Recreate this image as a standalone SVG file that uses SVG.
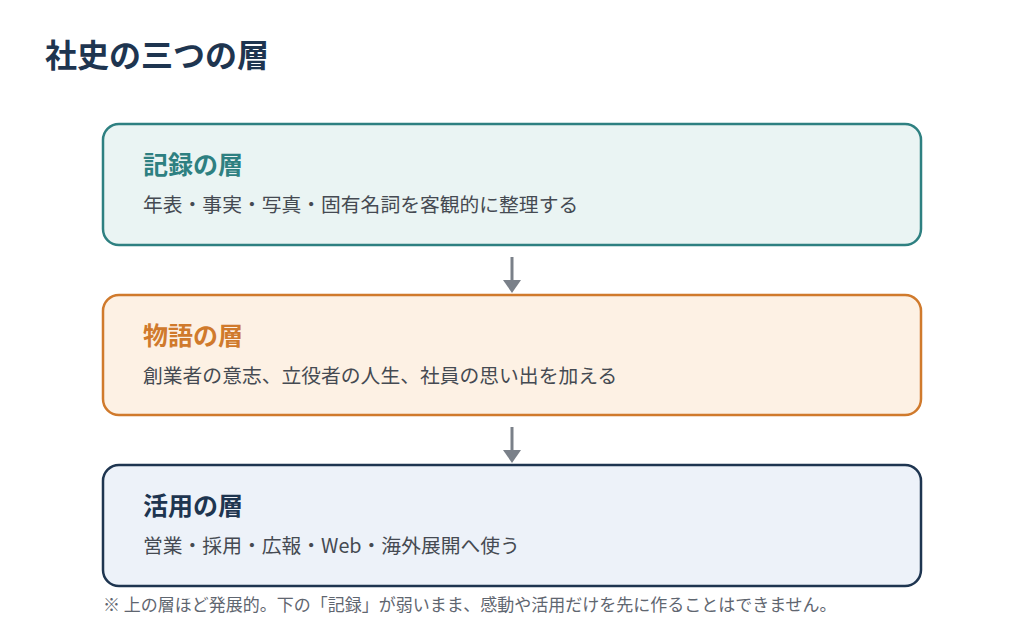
<svg xmlns="http://www.w3.org/2000/svg" width="1024" height="635" viewBox="0 0 1024 635">
<style>
text{font-family:"Noto Sans CJK JP","Noto Sans",sans-serif}
.box{stroke-width:2.5}
.h{font-size:25px;font-weight:bold}
.s{font-size:19.8px;fill:#454a52}
.c{stroke:#7a8089;stroke-width:3;fill:none}
</style>
<rect width="1024" height="635" fill="#fff"/>
<text x="45" y="67" font-size="32" font-weight="bold" fill="#1e3550">社史の三つの層</text>
<g id="n1"><rect class="box" x="103" y="124" width="818" height="121" rx="16" fill="#eaf4f3" stroke="#2e8081"/><text class="h" x="143" y="174" fill="#2e8081">記録の層</text><text class="s" x="143" y="212">年表・事実・写真・固有名詞を客観的に整理する</text></g>
<g id="n2"><rect class="box" x="103" y="295" width="818" height="120" rx="16" fill="#fdf1e4" stroke="#d07a2c"/><text class="h" x="143" y="345" fill="#d07a2c">物語の層</text><text class="s" x="143" y="383">創業者の意志、立役者の人生、社員の思い出を加える</text></g>
<g id="n3"><rect class="box" x="103" y="465" width="818" height="121" rx="16" fill="#edf2f9" stroke="#1e3550"/><text class="h" x="143" y="515" fill="#1e3550">活用の層</text><text class="s" x="143" y="553">営業・採用・広報・Web・海外展開へ使う</text></g>
<g id="connectors">
<path d="M512,257V282" class="c"/><path d="M503,280L512,293L521,280z" fill="#7a8089"/>
<path d="M512,427V452" class="c"/><path d="M503,450L512,463L521,450z" fill="#7a8089"/>
</g>
<text x="103" y="611" font-size="17" fill="#5f6670">※ 上の層ほど発展的。下の「記録」が弱いまま、感動や活用だけを先に作ることはできません。</text>
</svg>
